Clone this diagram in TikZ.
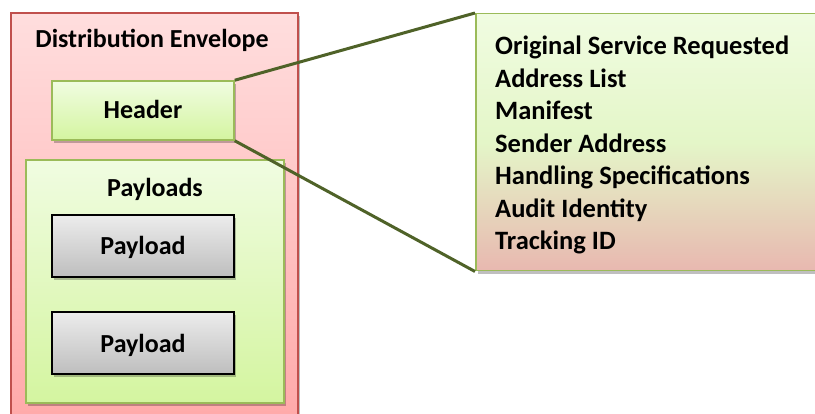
\documentclass[tikz,border=0pt]{standalone}
\usepackage{fontspec}
\setmainfont{Carlito}
\usetikzlibrary{shadows}
\definecolor{envborder}{RGB}{192,80,77}
\definecolor{envtop}{RGB}{255,222,222}
\definecolor{envbot}{RGB}{255,168,168}
\definecolor{grnborder}{RGB}{155,187,89}
\definecolor{grntop}{RGB}{240,252,225}
\definecolor{grnbot}{RGB}{212,245,160}
\definecolor{graytop}{RGB}{236,236,236}
\definecolor{graybot}{RGB}{190,190,190}
\definecolor{linkcol}{RGB}{79,98,40}
\definecolor{infotop}{RGB}{240,252,225}
\definecolor{infomid}{RGB}{228,246,200}
\definecolor{infobot}{RGB}{232,184,176}
\tikzset{
  boxshadow/.style={drop shadow={shadow xshift=2pt,shadow yshift=-3pt,opacity=0.25,fill=black}},
  envbox/.style={draw=envborder,line width=1.5pt,top color=envtop,bottom color=envbot,boxshadow},
  grnbox/.style={draw=grnborder,line width=1.5pt,top color=grntop,bottom color=grnbot,boxshadow},
  paybox/.style={draw=black,line width=1.3pt,top color=graytop,bottom color=graybot,boxshadow},
  infobox/.style={draw=grnborder,line width=1.5pt,boxshadow},
  link/.style={draw=linkcol,line width=3pt},
  lbl/.style={font=\bfseries\fontsize{26}{30}\selectfont,inner sep=0pt,anchor=base},
  infolbl/.style={font=\bfseries\fontsize{26.5}{30}\selectfont,inner sep=0pt,anchor=base west},
}
\begin{document}
\begin{tikzpicture}[x=1pt,y=-1pt]
\useasboundingbox (0,0) rectangle (815,414);
\clip (0,0) rectangle (815,414);
% outer envelope
\path[envbox] (11,13) rectangle (298,430);
\node[lbl] (envtitle) at (152,48) {Distribution Envelope};
% header box
\node[grnbox,minimum width=182pt,minimum height=59pt,inner sep=0pt] (header) at (143,110.5) {};
\node[lbl] (headertxt) at (143,119) {Header};
% payloads box
\node[grnbox,minimum width=258pt,minimum height=243pt,inner sep=0pt] (payloads) at (155,281.5) {};
\node[lbl] (payloadstxt) at (155,197) {Payloads};
\node[paybox,minimum width=182pt,minimum height=62pt,inner sep=0pt] (pay1) at (143,246) {};
\node[lbl] (pay1txt) at (143,255) {Payload};
\node[paybox,minimum width=182pt,minimum height=62pt,inner sep=0pt] (pay2) at (143,343) {};
\node[lbl] (pay2txt) at (143,353) {Payload};
% info box
\node[infobox,minimum width=370pt,minimum height=257pt,inner sep=0pt,anchor=north west,
  top color=infotop,bottom color=infobot,middle color=infomid] (info) at (475,13) {};
\node[infolbl] (i1) at (495,55) {Original Service Requested};
\node[infolbl] (i2) at (495,87.5) {Address List};
\node[infolbl] (i3) at (495,120) {Manifest};
\node[infolbl] (i4) at (495,152.5) {Sender Address};
\node[infolbl] (i5) at (495,185) {Handling Specifications};
\node[infolbl] (i6) at (495,217.5) {Audit Identity};
\node[infolbl] (i7) at (495,250) {Tracking ID};
% connectors
\draw[link] (header.north east) -- (info.north west);
\draw[link] (header.south east) -- (info.south west);
\end{tikzpicture}
\end{document}
